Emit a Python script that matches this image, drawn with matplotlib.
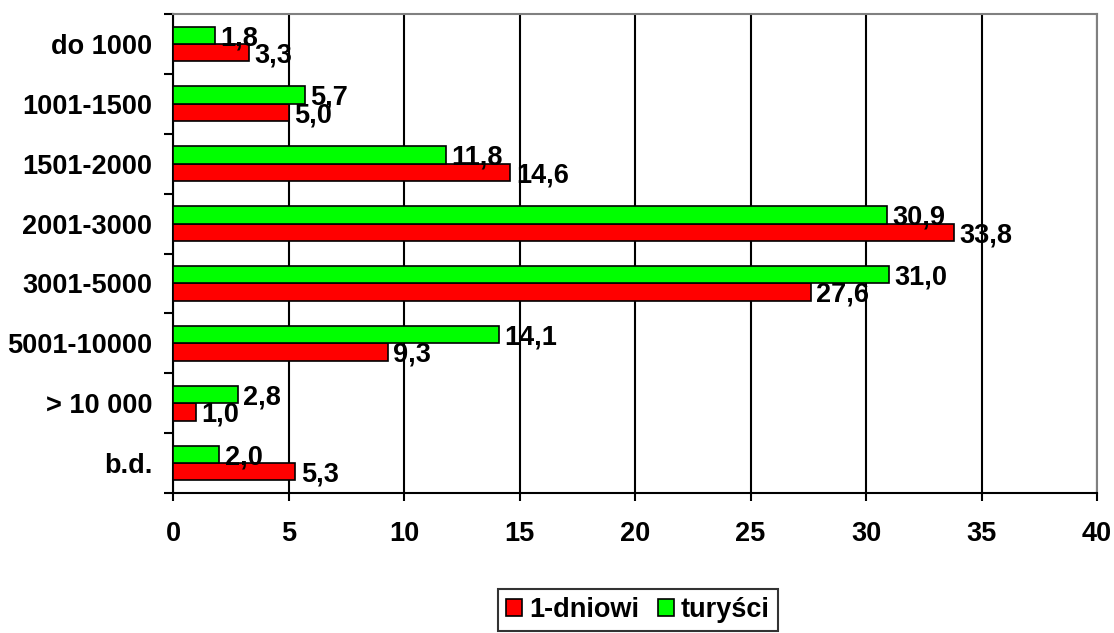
import numpy as np
import matplotlib
matplotlib.use("Agg")
import matplotlib.pyplot as plt

plt.rcParams['font.family'] = ['Liberation Sans', 'DejaVu Sans']
plt.rcParams['font.weight'] = 'bold'

categories = ['do 1000', '1001-1500', '1501-2000', '2001-3000',
              '3001-5000', '5001-10000', '> 10 000', 'b.d.']
jednodniowi = [3.3, 5.0, 14.6, 33.8, 27.6, 9.3, 1.0, 5.3]
turysci = [1.8, 5.7, 11.8, 30.9, 31.0, 14.1, 2.8, 2.0]

fs = 19.5

fig = plt.figure(figsize=(11.14, 6.33), dpi=100)
ax = fig.add_axes([173 / 1114, 140 / 633, 924 / 1114, 479 / 633])

y = np.arange(len(categories))
h = 0.29
bars_red = ax.barh(y + h / 2, jednodniowi, height=h, color='#FF0000',
                   edgecolor='black', linewidth=1.2, label='1-dniowi', zorder=3)
bars_green = ax.barh(y - h / 2, turysci, height=h, color='#00FF00',
                     edgecolor='black', linewidth=1.2, label='turyści', zorder=3)

# value labels with decimal comma
for bars, vals in [(bars_green, turysci), (bars_red, jednodniowi)]:
    for b, v in zip(bars, vals):
        ax.annotate(f"{v:.1f}".replace('.', ','),
                    (b.get_width(), b.get_y() + b.get_height() / 2),
                    xytext=(4, -2), textcoords='offset points',
                    ha='left', va='center', fontsize=fs, fontweight='bold', zorder=4)

ax.set_xlim(0, 40)
ax.set_ylim(len(categories) - 0.5, -0.5)
ax.set_xticks(np.arange(0, 41, 5))
ax.set_yticks(y)
ax.set_yticklabels(categories)
ax.set_yticks(np.arange(-0.5, len(categories)), minor=True)

ax.xaxis.grid(True, color='black', linewidth=1.5)
ax.set_axisbelow(True)

ax.tick_params(axis='x', which='major', direction='out', length=6, width=1.5,
               labelsize=fs, pad=14)
ax.tick_params(axis='y', which='major', length=0, labelsize=fs, pad=15)
ax.tick_params(axis='y', which='minor', direction='out', length=6.5, width=1.5)

for s in ['left', 'bottom']:
    ax.spines[s].set_color('black')
    ax.spines[s].set_linewidth(1.5)
for s in ['top', 'right']:
    ax.spines[s].set_color('#808080')
    ax.spines[s].set_linewidth(1.5)

leg = ax.legend(handles=[bars_red, bars_green], loc='upper center',
                bbox_to_anchor=(0.503, -0.2), ncol=2, fontsize=fs,
                frameon=True, fancybox=False, shadow=False,
                handlelength=0.6, handleheight=0.6, handletextpad=0.25,
                columnspacing=0.7, borderpad=0.3, borderaxespad=0)
leg.get_frame().set_edgecolor('black')
leg.get_frame().set_linewidth(1.5)

fig.savefig('out.png', dpi=100)
